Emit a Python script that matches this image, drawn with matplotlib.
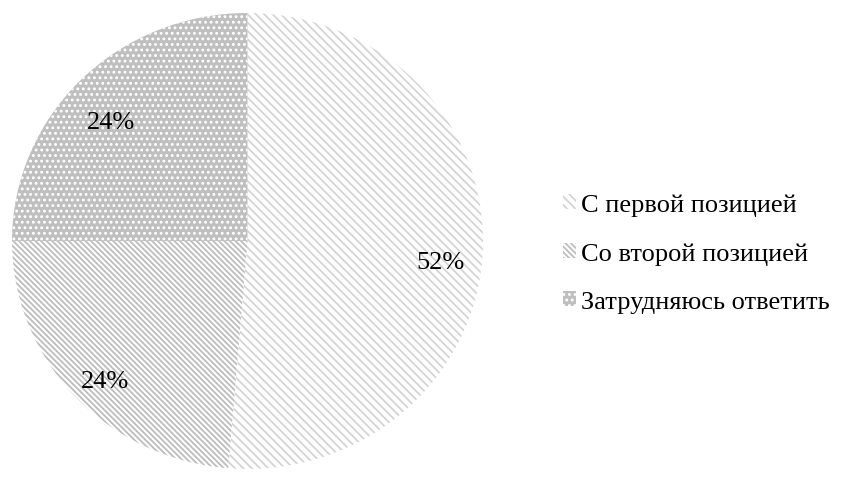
import matplotlib
matplotlib.use("Agg")
import matplotlib.pyplot as plt
import matplotlib.patches as mpatches
from matplotlib.transforms import ScaledTranslation

labels = ["С первой позицией", "Со второй позицией", "Затрудняюсь ответить"]
values = [51.3, 23.7, 25.0]
pct_labels = ["52%", "24%", "24%"]

face_colors = ["white", "white", "#bfbfbf"]
hatch_colors = ["#d4d4d4", "#bdbdbd", "white"]
hatches = ["\\\\\\\\", "\\\\\\\\\\\\", "..."]

plt.rcParams['font.family'] = ['Liberation Serif', 'DejaVu Serif']
plt.rcParams['hatch.linewidth'] = 1.3

W, H = 848, 481
fig = plt.figure(figsize=(W / 100, H / 100), dpi=100)
cx, cy, rx, ry = 247.5, 242, 235.5, 228
ax = fig.add_axes([(cx - rx) / W, (H - cy - ry) / H, 2 * rx / W, 2 * ry / H])

wedges, texts, autotexts = ax.pie(values, startangle=90, counterclock=False, radius=1,
                                  autopct="%.0f%%", pctdistance=0.82,
                                  textprops=dict(fontsize=19, color='black'))
ax.set_xlim(-1, 1)
ax.set_ylim(-1, 1)
ax.set_aspect('auto')
ax.axis('off')
offset = ScaledTranslation(0, -13 / 100, fig.dpi_scale_trans)
for t, s in zip(autotexts, pct_labels):
    t.set_text(s)
    t.set_transform(t.get_transform() + offset)
for w, fc, hc, h in zip(wedges, face_colors, hatch_colors, hatches):
    w.set_facecolor(fc)
    w.set_edgecolor(hc)
    w.set_hatch(h)
    w.set_linewidth(0)

handles = []
for fc, hc, h in zip(face_colors, hatch_colors, hatches):
    handles.append(mpatches.Patch(facecolor=fc, edgecolor=hc, hatch=h, linewidth=0))
fig.legend(handles, labels, loc='center left', bbox_to_anchor=(563 / W, 1 - 254 / H),
           frameon=False, fontsize=19, handlelength=0.5, handleheight=0.5,
           handletextpad=0.2, labelspacing=1.0, borderaxespad=0, borderpad=0)

fig.savefig("out.png", dpi=100)
